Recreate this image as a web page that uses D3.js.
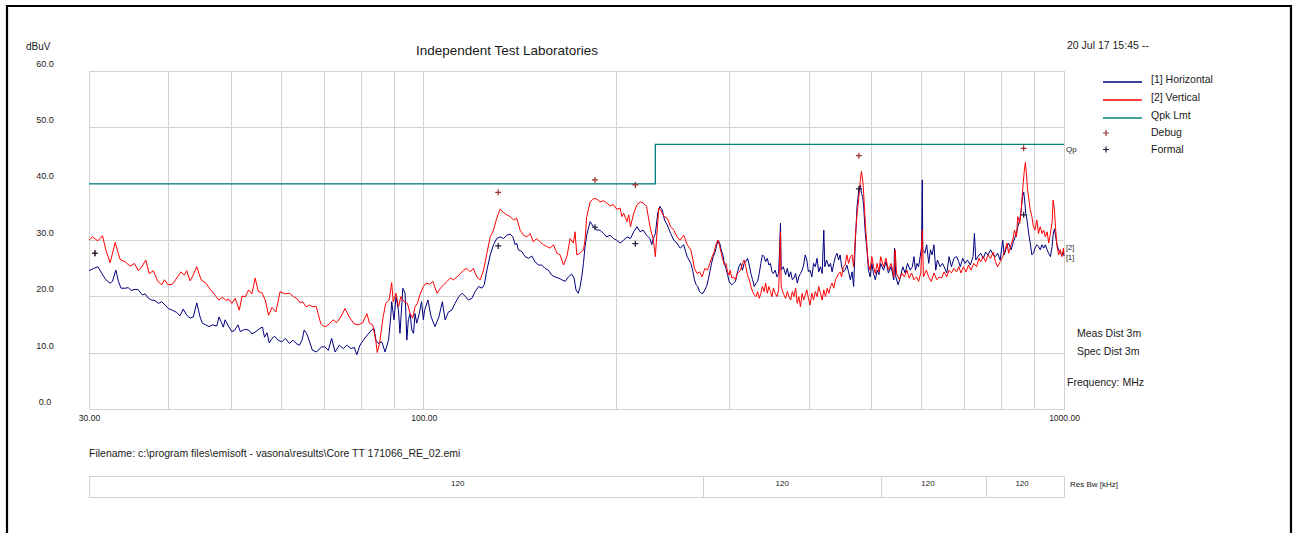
<!DOCTYPE html>
<meta charset="utf-8">
<style>
html, body {
  margin: 0;
  padding: 0;
  background: #fff;
}
svg {
  display: block;
  font-family: Arial, 'Liberation Sans', sans-serif;
}
.grid line, .frame {
  stroke: #d2d2d2;
  stroke-width: 1;
  fill: none;
  shape-rendering: crispEdges;
}
.lbl {
  fill: #1a1a1a;
}
</style>
<svg width="1298" height="533"></svg>
<script src="https://cdn.jsdelivr.net/npm/d3@7"></script>
<script>
// [MHz, dBuV]
const horizontal = [
  [30.0,24.6],[30.48,25.0],[30.97,25.3],[31.42,24.1],[31.87,23.0],[32.37,22.4],[32.64,22.7],[33.04,24.7],[33.35,22.7],[33.66,21.5],
  [34.15,21.5],[34.56,21.6],[34.9,21.1],[35.4,21.3],[35.82,21.2],[36.35,20.3],[36.71,20.5],[37.15,19.7],[37.6,19.4],[38.04,19.3],
  [38.5,18.8],[38.98,19.1],[39.44,18.5],[39.9,17.9],[40.49,17.6],[41.13,17.2],[41.6,16.6],[42.1,17.8],[42.64,16.7],[43.15,16.2],
  [43.66,16.4],[44.2,18.9],[44.73,16.4],[45.1,15.3],[45.66,15.0],[46.2,14.7],[46.76,15.0],[47.5,14.8],[47.88,16.4],[48.23,15.6],
  [48.64,14.6],[48.94,15.9],[49.53,14.8],[50.13,13.8],[50.62,14.0],[51.26,15.0],[51.7,13.8],[52.5,14.2],[53.26,14.1],[53.9,13.4],
  [54.66,13.8],[55.5,14.4],[55.99,14.6],[56.4,12.8],[56.9,13.6],[57.36,11.8],[57.94,12.6],[58.48,13.0],[59.18,12.3],[60.0,12.0],
  [60.8,12.6],[61.7,11.7],[62.45,12.3],[63.2,11.7],[63.95,11.4],[64.55,12.3],[65.05,14.1],[65.6,13.5],[66.2,12.3],[67.0,10.5],
  [68.0,10.2],[69.2,11.1],[70.05,11.1],[70.95,10.5],[71.8,12.6],[72.7,10.2],[73.8,11.4],[74.9,10.8],[75.8,11.4],[77.0,10.8],
  [77.9,11.0],[78.6,9.7],[79.5,11.4],[80.5,12.3],[81.6,13.2],[82.9,14.1],[83.6,14.4],[84.2,12.3],[84.9,11.7],[86.0,12.0],
  [87.0,10.2],[88.1,12.3],[88.8,16.4],[89.1,19.1],[89.85,15.9],[90.5,20.0],[91.3,17.6],[91.8,13.5],[92.75,21.5],[93.5,20.6],
  [94.1,12.3],[94.6,15.9],[95.2,17.0],[95.8,14.1],[96.4,13.5],[96.9,17.0],[97.5,15.3],[98.4,17.0],[99.2,19.1],[99.85,15.9],
  [100.3,17.6],[101.5,19.4],[102.7,16.4],[104.1,14.7],[105.6,16.4],[106.9,19.1],[108.0,15.9],[109.3,17.3],[110.6,17.6],[111.9,18.8],
  [113.4,20.0],[114.8,20.6],[116.2,20.0],[117.5,19.4],[118.9,19.7],[120.3,20.9],[121.8,21.8],[123.3,21.5],[124.3,22.1],[125.5,24.7],
  [127.0,27.4],[128.5,29.2],[130.0,30.3],[131.6,30.6],[133.2,30.3],[134.8,30.9],[136.4,31.1],[137.8,30.6],[138.9,29.2],[139.7,29.5],
  [140.5,28.3],[142.3,28.0],[144.0,27.1],[145.7,26.8],[147.5,27.2],[149.2,26.2],[151.0,25.6],[152.9,25.6],[154.7,25.0],[156.5,24.7],
  [158.5,23.8],[160.4,23.5],[162.3,23.3],[164.3,23.0],[166.3,22.7],[168.2,23.5],[170.2,24.0],[171.7,23.3],[172.9,21.2],[174.3,20.6],
  [175.5,21.8],[176.5,23.5],[177.6,25.9],[178.6,28.9],[179.7,30.9],[181.9,33.3],[184.1,32.4],[186.4,31.8],[188.5,31.8],[190.8,31.2],
  [193.1,30.6],[195.5,30.9],[197.8,30.3],[200.2,30.0],[202.6,29.5],[205.2,30.0],[207.7,30.6],[210.3,30.3],[212.8,31.5],[215.3,32.4],
  [217.8,31.5],[220.2,31.8],[222.8,30.9],[225.6,30.3],[227.0,29.2],[228.4,30.3],[230.0,31.2],[232.0,34.8],[233.7,36.0],[235.7,35.4],
  [237.7,33.6],[240.1,32.7],[243.0,31.2],[245.8,30.0],[248.6,29.5],[251.4,28.6],[254.6,29.2],[257.9,27.1],[261.3,25.9],[263.0,24.7],
  [264.7,23.0],[266.3,22.1],[268.0,21.8],[269.6,20.9],[271.3,20.6],[273.0,20.6],[274.8,21.2],[276.5,21.8],[278.2,23.0],[279.8,24.4],
  [281.5,25.9],[283.2,27.1],[284.8,27.7],[286.5,28.9],[288.2,30.0],[289.9,29.5],[291.5,28.3],[293.2,27.4],[294.8,25.9],[296.5,25.0],
  [298.2,23.9],[299.9,22.7],[300.9,22.4],[302.9,22.1],[304.8,22.4],[306.8,22.7],[308.7,24.1],[310.6,25.3],[312.6,25.9],[314.6,24.7],
  [316.5,25.9],[318.5,26.2],[320.4,26.8],[322.4,25.6],[324.3,24.1],[326.3,23.0],[328.3,21.8],[330.3,22.4],[332.2,22.7],[334.2,24.1],
  [336.1,25.9],[338.1,27.4],[340.1,27.1],[342.0,26.2],[344.0,26.8],[346.0,25.6],[347.9,25.9],[349.9,24.4],[351.6,24.1],[353.9,24.7],
  [356.2,23.5],[358.4,24.1],[360.7,33.0],[361.6,24.7],[364.3,25.3],[367.4,23.9],[369.7,25.0],[371.9,23.5],[374.2,24.4],[376.4,23.0],
  [378.6,23.3],[380.9,24.1],[383.2,22.4],[385.3,23.5],[387.6,24.1],[389.9,24.7],[392.1,25.6],[394.3,27.4],[396.6,26.5],[398.8,24.4],
  [401.2,24.7],[403.8,23.5],[406.3,25.9],[408.9,25.3],[411.4,26.8],[413.9,24.4],[416.5,25.3],[419.1,24.1],[421.5,31.8],[423.1,25.3],
  [425.7,26.5],[429.2,25.3],[431.8,25.9],[434.3,24.4],[436.9,25.9],[439.5,27.1],[442.0,27.7],[444.6,26.5],[447.0,27.4],[449.5,25.3],
  [452.2,24.4],[455.1,24.7],[458.0,25.6],[460.8,24.4],[463.7,23.0],[466.6,24.4],[469.3,21.8],[472.2,30.0],[475.1,36.0],[478.0,38.9],
  [480.8,39.8],[482.6,38.3],[484.8,37.7],[486.5,36.0],[489.4,31.2],[492.3,28.3],[495.0,24.7],[498.0,23.5],[501.0,25.9],[504.1,24.1],
  [507.4,23.0],[510.7,24.7],[514.0,23.9],[517.2,25.9],[522.6,24.7],[527.2,26.2],[531.7,24.2],[537.0,25.3],[542.3,23.0],[543.6,28.6],
  [546.2,23.5],[550.7,22.1],[555.4,23.5],[560.0,25.3],[564.7,24.2],[569.7,25.9],[575.1,24.7],[579.6,25.3],[582.9,27.1],[586.2,24.7],
  [589.4,25.9],[592.7,25.3],[596.2,27.1],[599.2,28.9],[600.7,40.7],[601.7,28.3],[606.4,27.7],[610.3,29.2],[614.8,25.9],[618.5,28.3],
  [622.5,27.4],[626.5,29.2],[630.4,24.7],[634.3,26.5],[640.5,25.3],[646.0,25.9],[649.8,25.3],[656.1,24.2],[661.5,27.1],[667.1,25.3],
  [673.1,26.8],[679.4,27.1],[684.8,26.2],[688.6,25.3],[694.8,26.8],[700.4,25.9],[706.7,26.5],[713.9,25.6],[721.1,27.1],[724.6,31.2],
  [728.2,26.5],[733.6,27.1],[741.0,27.7],[748.2,26.8],[754.4,27.9],[760.6,27.4],[767.9,28.3],[775.2,27.4],[781.4,27.1],[787.6,27.7],
  [794.9,26.5],[802.4,30.0],[806.4,27.4],[812.4,28.6],[819.5,29.5],[826.8,28.3],[834.9,30.0],[842.9,31.2],[846.9,32.4],[853.0,33.6],
  [857.3,35.4],[861.3,37.7],[865.3,38.5],[868.4,36.8],[871.4,34.8],[875.4,33.6],[880.7,31.2],[885.7,29.5],[890.9,27.4],[895.8,27.7],
  [900.9,28.6],[906.8,29.2],[912.3,28.9],[918.1,28.3],[923.9,29.2],[929.4,28.6],[935.2,29.2],[941.0,28.3],[946.5,27.7],[952.4,27.1],
  [958.2,28.9],[961.6,31.0],[966.1,32.0],[970.5,30.6],[975.3,29.2],[980.8,28.3],[986.6,27.7],[992.4,27.4],[997.9,27.9],[1000,27.2]
];

const vertical = [
  [30.0,30.0],[30.37,30.6],[30.97,29.9],[31.49,30.8],[31.87,28.3],[32.37,26.0],[32.96,29.6],[33.55,26.6],[34.15,26.2],[34.78,25.4],
  [35.32,25.9],[35.82,24.6],[36.27,25.3],[36.8,26.5],[37.24,24.1],[37.81,24.6],[38.42,22.7],[38.98,22.1],[39.34,23.0],[39.9,22.1],
  [40.49,22.2],[41.13,23.3],[41.76,24.4],[42.26,23.8],[42.64,24.6],[43.15,22.8],[43.5,23.5],[44.2,25.3],[44.9,23.0],[45.66,22.4],
  [46.54,21.1],[47.33,20.1],[47.88,19.4],[48.46,19.9],[49.06,19.4],[49.65,19.5],[50.13,18.8],[50.75,19.7],[51.51,17.6],[52.02,20.1],
  [52.64,20.0],[53.26,21.2],[53.9,20.5],[54.53,23.3],[55.17,20.9],[55.87,20.7],[56.55,19.4],[57.23,16.7],[57.94,18.1],[58.76,17.3],
  [59.65,20.9],[60.74,20.5],[61.7,20.6],[62.6,20.0],[63.35,19.7],[64.1,18.9],[64.7,19.1],[65.49,18.2],[66.3,18.5],[67.1,18.2],
  [67.9,18.3],[68.5,16.7],[69.05,15.2],[69.7,14.8],[70.36,14.7],[71.2,15.2],[72.2,15.9],[73.1,15.4],[74.2,16.4],[75.33,17.9],
  [76.5,16.4],[77.8,15.2],[79.0,15.0],[80.3,15.4],[81.5,17.0],[82.25,15.3],[83.25,15.0],[84.2,12.0],[84.6,10.1],[85.3,11.7],
  [86.4,16.4],[87.2,18.8],[88.3,19.4],[89.1,22.5],[89.6,19.1],[90.5,20.6],[91.3,18.2],[92.1,20.0],[93.2,19.1],[94.3,18.8],
  [95.2,17.0],[96.1,16.2],[96.9,18.2],[97.7,18.8],[98.6,20.3],[99.85,21.8],[100.8,22.4],[102.1,22.2],[103.3,22.7],[104.9,20.6],
  [106.2,21.5],[107.4,22.1],[108.7,22.7],[110.0,23.3],[111.3,23.0],[112.7,23.5],[114.1,24.1],[115.4,24.7],[116.8,25.0],[118.2,24.4],
  [119.5,25.0],[121.0,23.5],[122.5,23.0],[124.0,24.7],[125.5,27.7],[127.0,30.6],[128.5,31.8],[130.0,33.9],[131.6,35.5],[133.2,34.9],
  [134.8,34.5],[136.4,34.2],[138.1,33.6],[139.7,33.9],[141.4,31.8],[143.1,30.9],[144.9,30.6],[146.6,31.2],[148.3,29.7],[150.1,30.3],
  [151.9,29.7],[153.8,29.2],[155.6,28.9],[157.5,28.6],[159.4,29.2],[161.4,27.7],[163.3,27.4],[165.3,25.6],[167.3,27.1],[169.3,30.3],
  [171.3,29.5],[172.3,31.5],[173.4,27.4],[175.5,27.7],[177.6,28.3],[178.6,30.0],[179.7,34.2],[181.9,36.8],[184.1,37.4],[186.4,37.3],
  [188.5,36.8],[190.8,37.0],[193.1,36.6],[195.5,36.1],[197.8,36.3],[200.2,35.5],[202.6,35.7],[203.9,34.2],[205.2,34.8],[207.7,33.3],
  [209.0,34.5],[210.3,32.4],[212.8,34.8],[215.3,36.3],[217.8,36.8],[220.2,36.6],[222.8,36.0],[224.2,34.2],[225.6,32.4],[228.4,30.0],
  [230.0,27.1],[231.5,31.8],[232.9,35.7],[234.3,35.4],[237.2,34.2],[240.1,33.9],[243.0,32.4],[245.8,31.8],[248.6,30.6],[251.4,30.0],
  [254.6,30.9],[257.9,29.2],[261.3,28.3],[263.0,26.8],[264.7,25.0],[267.3,24.1],[269.6,24.4],[272.0,23.5],[274.8,25.0],[277.5,24.7],
  [279.8,25.9],[282.2,27.1],[284.2,28.0],[286.5,29.5],[288.2,30.0],[289.9,28.9],[291.5,27.7],[293.2,26.5],[294.8,25.6],[296.5,25.9],
  [298.2,24.4],[299.9,23.8],[300.9,24.7],[302.9,23.3],[304.8,23.5],[306.8,23.0],[308.7,24.1],[310.6,24.4],[312.6,24.7],[314.6,25.9],
  [316.5,26.5],[318.5,25.3],[320.4,23.8],[322.4,23.0],[324.3,21.8],[326.3,20.9],[328.3,20.3],[330.3,20.0],[332.2,20.9],[334.2,19.7],
  [336.1,20.6],[338.1,21.8],[340.1,20.9],[342.0,22.4],[344.0,20.6],[346.0,21.8],[347.9,20.9],[349.9,20.0],[351.6,21.5],[353.9,20.6],
  [356.2,20.0],[358.4,21.2],[360.7,31.5],[361.6,21.8],[364.3,20.6],[367.4,19.7],[369.7,20.9],[371.9,20.0],[374.2,19.4],[376.4,20.9],
  [378.6,20.0],[380.9,21.5],[383.2,18.8],[385.3,20.0],[387.6,18.2],[389.9,20.6],[392.1,19.4],[394.3,20.3],[396.6,21.2],[398.8,19.7],
  [401.2,18.5],[403.8,20.6],[406.3,19.4],[408.9,20.9],[411.4,20.0],[413.9,21.8],[416.5,20.6],[419.1,19.4],[421.5,21.2],[424.1,20.0],
  [426.7,21.5],[429.2,20.6],[431.8,21.8],[434.3,22.4],[436.9,21.5],[439.5,23.0],[442.0,23.5],[444.6,24.1],[447.0,24.4],[449.5,23.5],
  [452.2,25.3],[455.1,25.6],[458.0,27.4],[460.8,25.9],[463.7,27.1],[466.6,27.4],[469.3,25.3],[472.2,30.6],[475.1,34.8],[478.0,37.4],
  [480.8,40.7],[482.6,42.2],[484.8,40.7],[486.5,38.3],[488.2,35.1],[490.6,31.2],[492.3,28.9],[495.0,25.6],[498.0,24.7],[501.0,27.1],
  [504.1,25.3],[507.4,24.1],[510.7,25.9],[514.0,24.4],[517.2,27.1],[522.6,25.3],[527.2,26.8],[531.7,24.7],[537.0,25.9],[542.3,23.5],
  [544.9,28.3],[547.5,24.2],[553.4,23.0],[558.1,24.2],[563.2,23.5],[568.5,24.7],[573.0,23.3],[577.8,24.2],[582.9,23.0],[588.2,23.5],
  [592.7,22.7],[597.5,24.2],[600.7,31.8],[603.1,23.5],[609.4,24.7],[614.8,23.5],[620.4,22.7],[626.5,24.2],[632.7,23.0],[638.1,23.5],
  [643.7,23.3],[649.8,24.4],[656.1,23.5],[661.5,24.7],[667.1,24.2],[673.1,25.0],[679.4,24.4],[684.8,25.3],[690.4,24.2],[696.5,25.3],
  [703.2,24.4],[709.4,25.6],[715.9,24.7],[722.9,25.9],[730.2,25.3],[736.4,26.8],[741.0,26.2],[748.2,27.1],[754.4,26.2],[760.6,27.4],
  [767.9,26.8],[775.2,27.9],[781.4,26.2],[787.6,25.3],[794.9,26.2],[802.4,27.1],[809.4,28.3],[814.6,29.5],[819.5,27.7],[826.8,29.2],
  [832.9,30.4],[836.8,31.8],[842.9,30.6],[846.9,34.2],[853.0,33.0],[857.3,35.4],[860.3,37.7],[863.4,40.1],[867.3,42.5],[870.4,43.8],
  [873.4,41.9],[877.4,38.9],[881.7,37.1],[885.7,35.4],[890.9,34.2],[895.8,32.4],[900.9,31.8],[906.8,33.6],[912.3,31.2],[918.1,32.4],
  [923.9,31.2],[929.4,31.8],[935.2,30.6],[941.0,31.5],[946.5,29.5],[952.4,31.2],[958.2,33.3],[961.6,37.1],[966.1,35.4],[970.5,31.8],
  [975.3,28.9],[980.8,27.4],[986.6,28.3],[992.4,27.1],[997.9,28.6],[1000,27.5]
];

// quasi-peak limit, step at 230 MHz
const qpkLimit = [[30, 40], [230, 40], [230, 47], [1000, 47]];

const debugPeaks = [[30.65, 27.7], [130.7, 38.5], [185.1, 40.7], [214.0, 39.8], [478.2, 45.0], [864.9, 46.3]];
const formalPeaks = [[30.65, 27.7], [130.7, 29.0], [185.1, 32.3], [214.0, 29.4], [478.2, 39.1], [864.9, 34.5]];

const yTicks = [0, 10, 20, 30, 40, 50, 60];
const xTickLabels = [30, 100, 1000];
const xGrid = [40, 50, 60, 70, 80, 90, 100, 200, 300, 400, 500, 600, 700, 800, 900];

const resBwEdges = [273, 518, 758];
const resBwLabelFreqs = [113, 363, 613, 860];
const resBwValues = ['120', '120', '120', '120'];

const legendItems = ['[1] Horizontal', '[2] Vertical', 'Qpk Lmt', 'Debug', 'Formal'];

const svg = d3.select('svg');
const plotL = 89, plotR = 1064, plotT = 71, plotB = 409.5;

const x = d3.scaleLog().domain([30, 1000]).range([plotL, plotR]);
const y = d3.scaleLinear().domain([0, 60]).range([plotB, plotT]);

// page border
svg.append('path')
  .attr('d', 'M7,533V6H1291V533')
  .attr('fill', 'none')
  .attr('stroke', '#000')
  .attr('stroke-width', 2.2);

const grid = svg.append('g').attr('class', 'grid');
grid.selectAll('.h')
  .data(yTicks)
  .enter()
  .append('line')
  .attr('x1', plotL).attr('x2', plotR)
  .attr('y1', d => y(d)).attr('y2', d => y(d));
grid.selectAll('.v')
  .data(xGrid)
  .enter()
  .append('line')
  .attr('x1', d => x(d)).attr('x2', d => x(d))
  .attr('y1', plotT).attr('y2', plotB);
svg.append('rect')
  .attr('class', 'frame')
  .attr('x', plotL).attr('y', plotT)
  .attr('width', plotR - plotL).attr('height', plotB - plotT);

// y labels sit just above their gridline
const yAxis = svg.append('g')
  .attr('transform', 'translate(45,-5)')
  .call(d3.axisLeft(y).tickValues(yTicks).tickFormat(d3.format('.1f')).tickSize(0));
yAxis.select('.domain').remove();
yAxis.selectAll('text')
  .attr('class', 'lbl')
  .attr('x', 0).attr('dy', 0)
  .attr('text-anchor', 'middle')
  .attr('font-size', 9)
  .attr('font-family', 'Arial, Liberation Sans, sans-serif');

const xAxis = svg.append('g')
  .attr('transform', `translate(0,${plotB})`)
  .call(d3.axisBottom(x).tickValues(xTickLabels).tickFormat(d3.format('.2f')).tickSize(0));
xAxis.select('.domain').remove();
xAxis.selectAll('text')
  .attr('class', 'lbl')
  .attr('y', 11).attr('dy', 0)
  .attr('font-size', 8.5)
  .attr('font-family', 'Arial, Liberation Sans, sans-serif');

const line = d3.line().x(d => x(d[0])).y(d => y(d[1]));

svg.append('path')
  .datum(horizontal)
  .attr('fill', 'none')
  .attr('stroke', '#000080')
  .attr('stroke-width', 1)
  .attr('d', line);

svg.append('path')
  .datum(vertical)
  .attr('fill', 'none')
  .attr('stroke', '#ff0000')
  .attr('stroke-width', 1)
  .attr('d', line);

svg.append('path')
  .datum(qpkLimit)
  .attr('fill', 'none')
  .attr('stroke', '#008080')
  .attr('stroke-width', 1.3)
  .attr('d', line);

const plus = 'M-3,0H3M0,-3V3';
svg.selectAll('.debug')
  .data(debugPeaks)
  .enter()
  .append('path')
  .attr('d', plus)
  .attr('transform', d => `translate(${x(d[0])},${y(d[1])})`)
  .attr('stroke', '#9a3030')
  .attr('stroke-width', 1.2);
svg.selectAll('.formal')
  .data(formalPeaks)
  .enter()
  .append('path')
  .attr('d', plus)
  .attr('transform', d => `translate(${x(d[0])},${y(d[1])})`)
  .attr('stroke', '#1c1c38')
  .attr('stroke-width', 1.2);

function label(txt, px, py, size, anchor) {
  svg.append('text')
    .attr('class', 'lbl')
    .attr('x', px).attr('y', py)
    .attr('font-size', size)
    .attr('text-anchor', anchor || 'start')
    .text(txt);
}

label('dBuV', 26, 49.5, 10);
label('Independent Test Laboratories', 507, 55, 13.5, 'middle');
label('20 Jul 17 15:45 --', 1067, 49, 10.5);
label('Qp', 1066, 152, 8);
label('[2]', 1066, 250, 7.5);
label('[1]', 1066, 260, 7.5);
label('Meas Dist 3m', 1077, 337, 10.5);
label('Spec Dist 3m', 1077, 354.5, 10.5);
label('Frequency: MHz', 1067, 386, 10.5);
label('Filename: c:\\program files\\emisoft - vasona\\results\\Core TT 171066_RE_02.emi', 89, 457, 10.5);
label('Res Bw [kHz]', 1070, 486.5, 8);

// legend
const legendRows = [82, 100, 118, 133, 149.5];
const legendStyle = [
  {kind: 'line', color: '#000080'},
  {kind: 'line', color: '#ff0000'},
  {kind: 'line', color: '#008080'},
  {kind: 'plus', color: '#9a3030'},
  {kind: 'plus', color: '#1c1c38'}
];
const legend = svg.append('g');
legendItems.forEach((name, i) => {
  const ry = legendRows[i];
  const st = legendStyle[i];
  if (st.kind === 'line') {
    legend.append('line')
      .attr('x1', 1103).attr('x2', 1142)
      .attr('y1', ry).attr('y2', ry)
      .attr('stroke', st.color)
      .attr('stroke-width', 1.3);
  } else {
    legend.append('path')
      .attr('d', plus)
      .attr('transform', `translate(1106,${ry})`)
      .attr('stroke', st.color)
      .attr('stroke-width', 1.2);
  }
  legend.append('text')
    .attr('class', 'lbl')
    .attr('x', 1151)
    .attr('y', st.kind === 'line' ? ry + 0.5 : ry + 3)
    .attr('font-size', 10.5)
    .text(name);
});

// resolution bandwidth strip
const bw = svg.append('g');
bw.append('rect')
  .attr('class', 'frame')
  .attr('x', plotL).attr('y', 476)
  .attr('width', plotR - plotL).attr('height', 21);
bw.selectAll('line')
  .data(resBwEdges)
  .enter()
  .append('line')
  .attr('class', 'frame')
  .attr('x1', d => x(d)).attr('x2', d => x(d))
  .attr('y1', 476).attr('y2', 497);
bw.selectAll('text')
  .data(resBwLabelFreqs)
  .enter()
  .append('text')
  .attr('class', 'lbl')
  .attr('x', d => x(d))
  .attr('y', 486)
  .attr('text-anchor', 'middle')
  .attr('font-size', 8)
  .text((d, i) => resBwValues[i]);
</script>
